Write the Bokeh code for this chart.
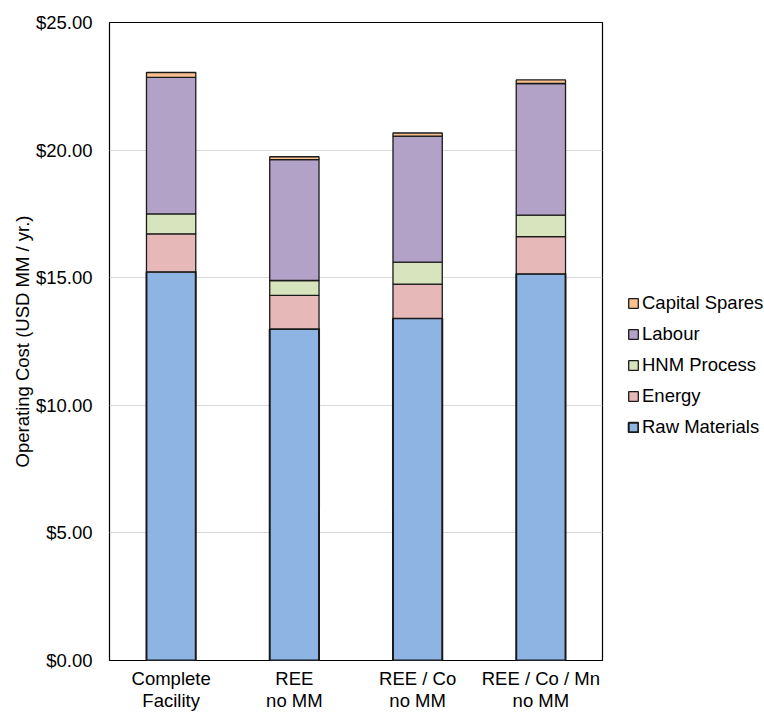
from bokeh.plotting import figure
from bokeh.models import (FactorRange, Range1d, FixedTicker, NumeralTickFormatter,
                          Legend, LegendItem)
from bokeh.embed import file_html
from bokeh.resources import INLINE

# Operating cost breakdown per facility configuration (USD MM / yr.)
scenarios = ["Complete\nFacility", "REE\nno MM", "REE / Co\nno MM", "REE / Co / Mn\nno MM"]
raw_materials = [15.23, 12.99, 13.41, 15.15]
energy = [1.49, 1.32, 1.34, 1.46]
hnm_process = [0.78, 0.58, 0.86, 0.84]
labour = [5.35, 4.74, 4.94, 5.16]
capital_spares = [0.19, 0.11, 0.12, 0.14]

series = ["Raw Materials", "Energy", "HNM Process", "Labour", "Capital Spares"]
colors = ["#8EB4E3", "#E6B9B8", "#D7E4BD", "#B3A2C7", "#FAC090"]

data = {
    "scenario": scenarios,
    "Raw Materials": raw_materials,
    "Energy": energy,
    "HNM Process": hnm_process,
    "Labour": labour,
    "Capital Spares": capital_spares,
}

FONT = "Liberation Sans"
SIZE = "18.5px"

p = figure(
    x_range=FactorRange(factors=scenarios, range_padding=0),
    y_range=Range1d(0, 25),
    frame_width=493, frame_height=638,
    min_border_left=109, min_border_top=22, min_border_right=162, min_border_bottom=0,
    output_backend="svg", toolbar_location=None,
)

renderers = p.vbar_stack(series, x="scenario", width=0.4, source=data,
                         fill_color=colors, line_color="#1a1a1a", line_width=1.3)
renderers[0].glyph.line_width = 2.0

p.outline_line_color = "black"
p.outline_line_width = 1.2
p.background_fill_color = "white"
p.border_fill_color = "white"

p.xgrid.grid_line_color = None
p.ygrid.grid_line_color = "#D9D9D9"
p.ygrid.grid_line_width = 1.2

p.yaxis.ticker = FixedTicker(ticks=[0, 5, 10, 15, 20, 25])
p.yaxis.formatter = NumeralTickFormatter(format="$0.00")
p.yaxis.axis_label = "Operating Cost (USD MM / yr.)"
p.yaxis.axis_label_text_font = FONT
p.yaxis.axis_label_text_font_style = "normal"
p.yaxis.axis_label_text_font_size = SIZE
p.yaxis.axis_label_text_color = "black"
p.yaxis.axis_label_standoff = 0
p.yaxis.major_label_standoff = 17

for ax in (p.xaxis, p.yaxis):
    ax.axis_line_color = None
    ax.major_tick_line_color = None
    ax.minor_tick_line_color = None
    ax.major_tick_out = 0
    ax.major_tick_in = 0
    ax.minor_tick_out = 0
    ax.minor_tick_in = 0
    ax.major_label_text_font = FONT
    ax.major_label_text_font_size = SIZE
    ax.major_label_text_color = "black"

p.xaxis.major_label_standoff = 7
p.xaxis.major_label_text_line_height = 1.05

items = [LegendItem(label=name, renderers=[r]) for name, r in zip(series, renderers)]
legend = Legend(
    items=list(reversed(items)),
    location=(25, 222),
    margin=0, padding=4,
    glyph_width=12, glyph_height=12,
    label_standoff=3, label_height=20, spacing=9,
    label_text_font=FONT, label_text_font_size=SIZE, label_text_color="black",
    border_line_color=None, background_fill_alpha=0,
)
p.add_layout(legend, "right")

open("out.html", "w").write(file_html(p, INLINE))
